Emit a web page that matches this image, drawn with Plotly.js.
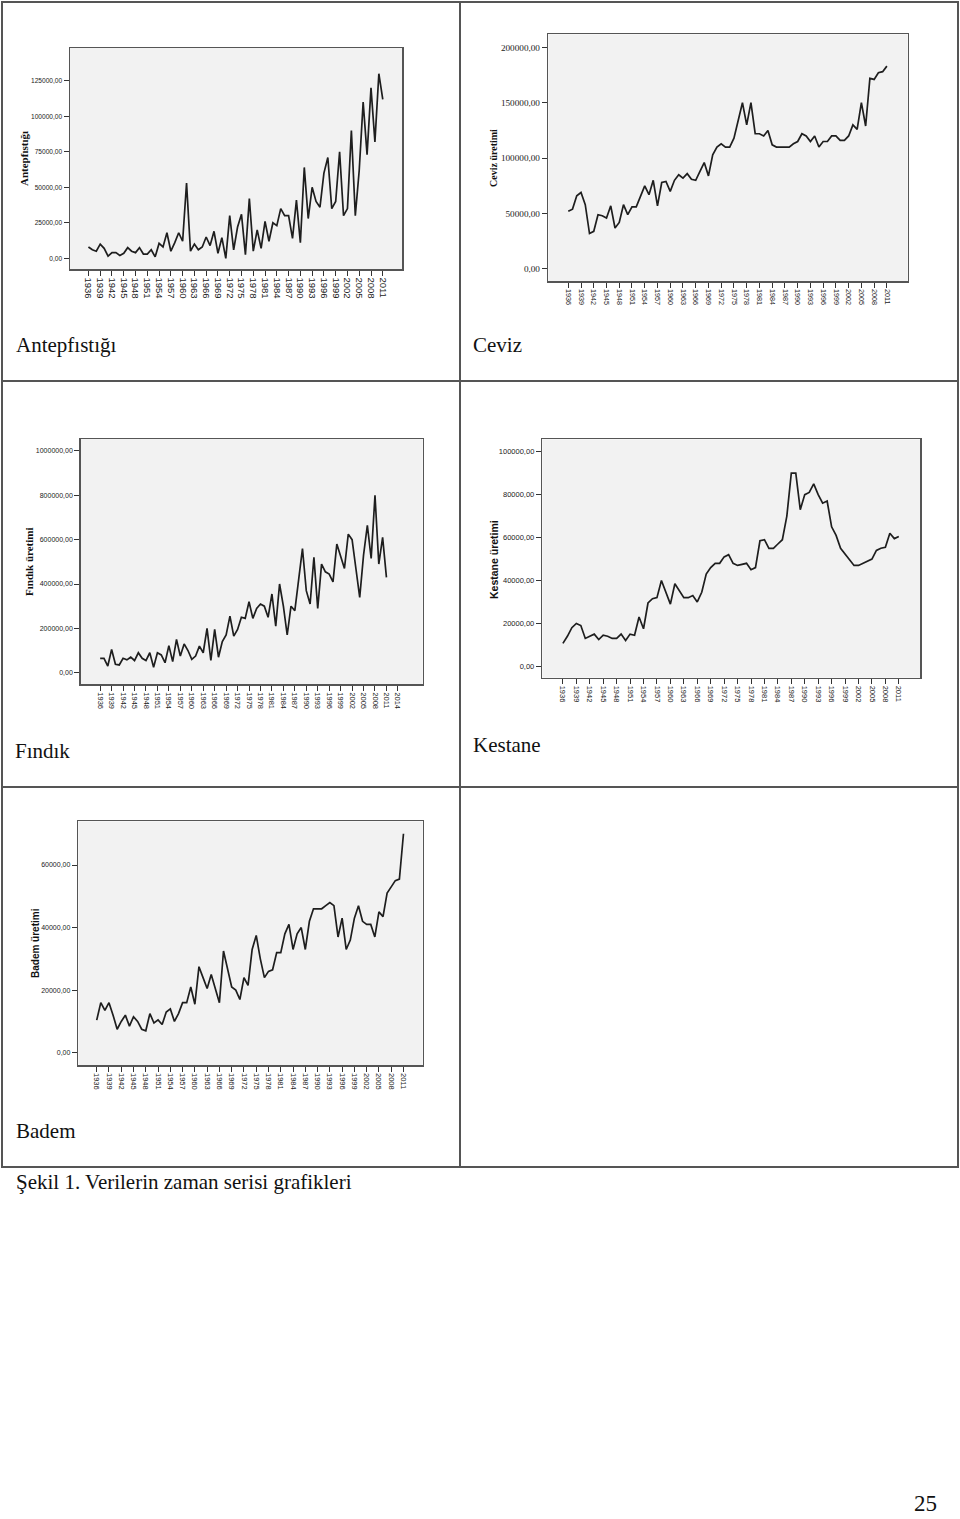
<!DOCTYPE html>
<html>
<head>
<meta charset="utf-8">
<script src="https://cdn.plot.ly/plotly-3.0.1.min.js"></script>
<style>
  html, body { margin: 0; padding: 0; background: #ffffff; }
  #plotly-plot { width: 960px; height: 1519px; }
</style>
</head>
<body>
<div id="plotly-plot"></div>
<script>
// data (tons per year)
const years = [1936, 1937, 1938, 1939, 1940, 1941, 1942, 1943, 1944, 1945,
    1946, 1947, 1948, 1949, 1950, 1951, 1952, 1953, 1954, 1955,
    1956, 1957, 1958, 1959, 1960, 1961, 1962, 1963, 1964, 1965,
    1966, 1967, 1968, 1969, 1970, 1971, 1972, 1973, 1974, 1975,
    1976, 1977, 1978, 1979, 1980, 1981, 1982, 1983, 1984, 1985,
    1986, 1987, 1988, 1989, 1990, 1991, 1992, 1993, 1994, 1995,
    1996, 1997, 1998, 1999, 2000, 2001, 2002, 2003, 2004, 2005,
    2006, 2007, 2008, 2009, 2010, 2011];

const year_ticks = [1936, 1939, 1942, 1945, 1948, 1951, 1954, 1957, 1960, 1963,
    1966, 1969, 1972, 1975, 1978, 1981, 1984, 1987, 1990, 1993,
    1996, 1999, 2002, 2005, 2008, 2011];
const year_ticks_findik = [1936, 1939, 1942, 1945, 1948, 1951, 1954, 1957, 1960, 1963,
    1966, 1969, 1972, 1975, 1978, 1981, 1984, 1987, 1990, 1993,
    1996, 1999, 2002, 2005, 2008, 2011, 2014];

const antep_vals = [8000, 6000, 5000, 10000, 7000, 1500, 4000, 4000, 2000, 3500,
    7500, 5000, 4000, 7500, 3000, 3000, 6000, 1000, 10500, 8000,
    18000, 5000, 11000, 18000, 12000, 53000, 5000, 10000, 6000, 8000,
    15000, 9000, 19000, 3500, 14500, 0, 30000, 6000, 22000, 31000,
    2500, 42000, 5000, 20000, 7000, 26000, 12000, 25000, 23000, 35000,
    30000, 30000, 14000, 41000, 11000, 64000, 28000, 50000, 40000, 36000,
    60000, 71000, 35000, 40000, 75000, 30000, 35000, 90000, 30000, 62000,
    110000, 73000, 120000, 82000, 130000, 112000];

const ceviz_vals = [52000, 54000, 66000, 69000, 58000, 32000, 34000, 49000, 48000, 46000,
    57000, 37000, 42000, 58000, 49000, 56000, 56000, 66000, 75000, 67000,
    80000, 57000, 78000, 79000, 70000, 80000, 85000, 82000, 86000, 81000,
    80000, 88000, 96000, 84000, 103000, 110000, 113000, 110000, 110000, 118000,
    135000, 150000, 130000, 150000, 122000, 122000, 120000, 125000, 112000, 110000,
    110000, 110000, 110000, 113000, 115000, 122000, 120000, 115000, 120000, 110000,
    115000, 115000, 120000, 120000, 116000, 116000, 120000, 130000, 126000, 150000,
    129000, 172000, 171000, 177000, 178000, 183000];

const findik_vals = [65000, 65000, 30000, 105000, 38000, 35000, 65000, 58000, 70000, 55000,
    90000, 65000, 55000, 90000, 25000, 90000, 80000, 45000, 122000, 50000,
    150000, 75000, 130000, 100000, 60000, 75000, 120000, 90000, 200000, 55000,
    195000, 70000, 140000, 170000, 255000, 165000, 195000, 250000, 245000, 320000,
    245000, 290000, 310000, 300000, 250000, 355000, 210000, 400000, 300000, 170000,
    300000, 280000, 420000, 560000, 370000, 310000, 520000, 290000, 490000, 455000,
    445000, 410000, 580000, 530000, 470000, 625000, 600000, 470000, 340000, 530000,
    665000, 515000, 800000, 490000, 610000, 430000];

const kestane_vals = [10700, 14000, 18000, 20000, 19000, 13000, 14000, 15000, 12500, 14500,
    14000, 13000, 13000, 15000, 12000, 15000, 14500, 23000, 17500, 29500,
    31500, 32000, 40000, 34000, 29000, 38500, 35000, 32000, 32000, 33000,
    30000, 34500, 43000, 46000, 48000, 48000, 51000, 52000, 48000, 47000,
    47500, 48000, 45000, 46000, 58500, 59000, 55000, 55000, 57000, 59000,
    70000, 90000, 90000, 73000, 80000, 81000, 85000, 80000, 76000, 77000,
    65000, 61000, 55000, 52500, 50000, 47000, 47000, 48000, 49000, 50000,
    54000, 55000, 55500, 62000, 59500, 60500];

const badem_vals = [10400, 16000, 13500, 16000, 12000, 7500, 10000, 12000, 8500, 11500,
    10000, 7500, 7000, 12500, 9500, 10500, 9000, 13000, 14000, 10000,
    12500, 16000, 16000, 21000, 15500, 27500, 24000, 20500, 25000, 20500,
    16000, 32500, 26500, 21000, 20000, 17000, 24000, 21500, 33000, 37500,
    30000, 24000, 26000, 26500, 32000, 32000, 38000, 41000, 33000, 38000,
    40000, 33000, 42000, 46000, 46000, 46000, 47000, 48000, 47000, 37000,
    43000, 33000, 36000, 43000, 47000, 42000, 41000, 41000, 37000, 45000,
    43500, 51000, 53000, 55000, 55500, 70000];

const W = 960;
const H = 1519;
function px(x) { return x / W; }
function py(y) { return 1 - y / H; }

const SANS = 'Liberation Sans, Arial, sans-serif';
const SERIF = 'Liberation Serif, Times New Roman, serif';

function line_trace(n, vals) {
    return {
        x: years,
        y: vals,
        xaxis: 'x' + n,
        yaxis: 'y' + n,
        type: 'scatter',
        mode: 'lines',
        line: { color: '#1e1e1e', width: 1.7 },
        hoverinfo: 'skip'
    };
}

function x_axis(n, l, r, rng, ticks, fsize) {
    return {
        domain: [px(l), px(r)],
        range: rng,
        anchor: 'y' + n,
        tickmode: 'array',
        tickvals: ticks,
        ticktext: ticks.map(String),
        tickangle: 90,
        ticks: 'outside', ticklen: 5, tickwidth: 1, tickcolor: '#333',
        showline: true, mirror: true, linecolor: '#555', linewidth: 1.5,
        showgrid: false, zeroline: false,
        tickfont: { family: SANS, size: fsize, color: '#222' }
    };
}

function y_axis(n, t, b, rng, dtick, font) {
    return {
        domain: [py(b), py(t)],
        range: rng,
        anchor: 'x' + n,
        tickmode: 'linear', tick0: 0, dtick: dtick,
        tickformat: '.2f',
        ticks: 'outside', ticklen: 5, tickwidth: 1, tickcolor: '#333',
        showline: true, mirror: true, linecolor: '#555', linewidth: 1.5,
        showgrid: false, zeroline: false,
        tickfont: font
    };
}

var data = [
    line_trace(1, antep_vals),
    line_trace(2, ceviz_vals),
    line_trace(3, findik_vals),
    line_trace(4, kestane_vals),
    line_trace(5, badem_vals)
];

function ytitle(text, cx, cy, family, size) {
    return {
        text: '<b>' + text + '</b>', xref: 'paper', yref: 'paper',
        x: px(cx), y: py(cy), xanchor: 'center', yanchor: 'middle',
        textangle: -90, showarrow: false,
        font: { family: family, size: size, color: '#111' }
    };
}

function caption(text, x, baseline, size) {
    return {
        text: text, xref: 'paper', yref: 'paper',
        x: px(x), y: py(baseline - 0.3 * size), xanchor: 'left', yanchor: 'middle',
        showarrow: false,
        font: { family: SERIF, size: size, color: '#111' }
    };
}

// table borders
var border = { color: '#555', width: 2 };
var shapes = [
    { type: 'rect', xref: 'paper', yref: 'paper', x0: px(2), x1: px(958), y0: py(2), y1: py(1167), line: border },
    { type: 'line', xref: 'paper', yref: 'paper', x0: px(460), x1: px(460), y0: py(2), y1: py(1167), line: border },
    { type: 'line', xref: 'paper', yref: 'paper', x0: px(2), x1: px(958), y0: py(381), y1: py(381), line: border },
    { type: 'line', xref: 'paper', yref: 'paper', x0: px(2), x1: px(958), y0: py(787), y1: py(787), line: border }
];

var layout = {
    width: W,
    height: H,
    margin: { l: 0, r: 0, t: 0, b: 0, pad: 0 },
    paper_bgcolor: '#ffffff',
    plot_bgcolor: '#f2f2f2',
    showlegend: false,
    separators: ',.',
    xaxis: x_axis(1, 70, 402, [1931.3, 2015.9], year_ticks, 9.5),
    yaxis: y_axis(1, 48, 269, [-7535, 148100], 25000, { family: SANS, size: 6.6, color: '#222' }),
    xaxis2: x_axis(2, 548.3, 907.7, [1931.3, 2015.9], year_ticks, 7.2),
    yaxis2: y_axis(2, 34.3, 281, [-10830, 211700], 50000, { family: SERIF, size: 9.2, color: '#222' }),
    xaxis3: x_axis(3, 80.7, 422.7, [1930.9, 2020.5], year_ticks_findik, 7.5),
    yaxis3: y_axis(3, 439, 684.3, [-52300, 1054000], 200000, { family: SANS, size: 7, color: '#222' }),
    xaxis4: x_axis(4, 542.3, 920.3, [1931.4, 2015.8], year_ticks, 7.5),
    yaxis4: y_axis(4, 439.3, 677.7, [-5300, 105780], 20000, { family: SANS, size: 7.5, color: '#222' }),
    xaxis5: x_axis(5, 78.3, 422.7, [1931.5, 2015.7], year_ticks, 7.5),
    yaxis5: y_axis(5, 821.3, 1065, [-3930, 73970], 20000, { family: SANS, size: 7, color: '#222' }),
    shapes: shapes,
    annotations: [
        ytitle('Antepfıstığı', 24, 159, SERIF, 11),
        ytitle('Ceviz üretimi', 493, 158, SERIF, 10),
        ytitle('Fındık üretimi', 29, 562, SERIF, 11),
        ytitle('Kestane üretimi', 494, 559, SANS, 10.5),
        ytitle('Badem üretimi', 35, 943, SANS, 10),
        caption('Antepfıstığı', 14, 351, 21),
        caption('Ceviz', 471, 351, 21),
        caption('Fındık', 13, 757, 21),
        caption('Kestane', 471, 751, 21),
        caption('Badem', 14, 1137, 21),
        caption('Şekil 1. Verilerin zaman serisi grafikleri', 14, 1188, 21),
        caption('25', 912, 1510, 23)
    ]
};

Plotly.newPlot('plotly-plot', data, layout, { displayModeBar: false, staticPlot: true });
</script>
</body>
</html>
